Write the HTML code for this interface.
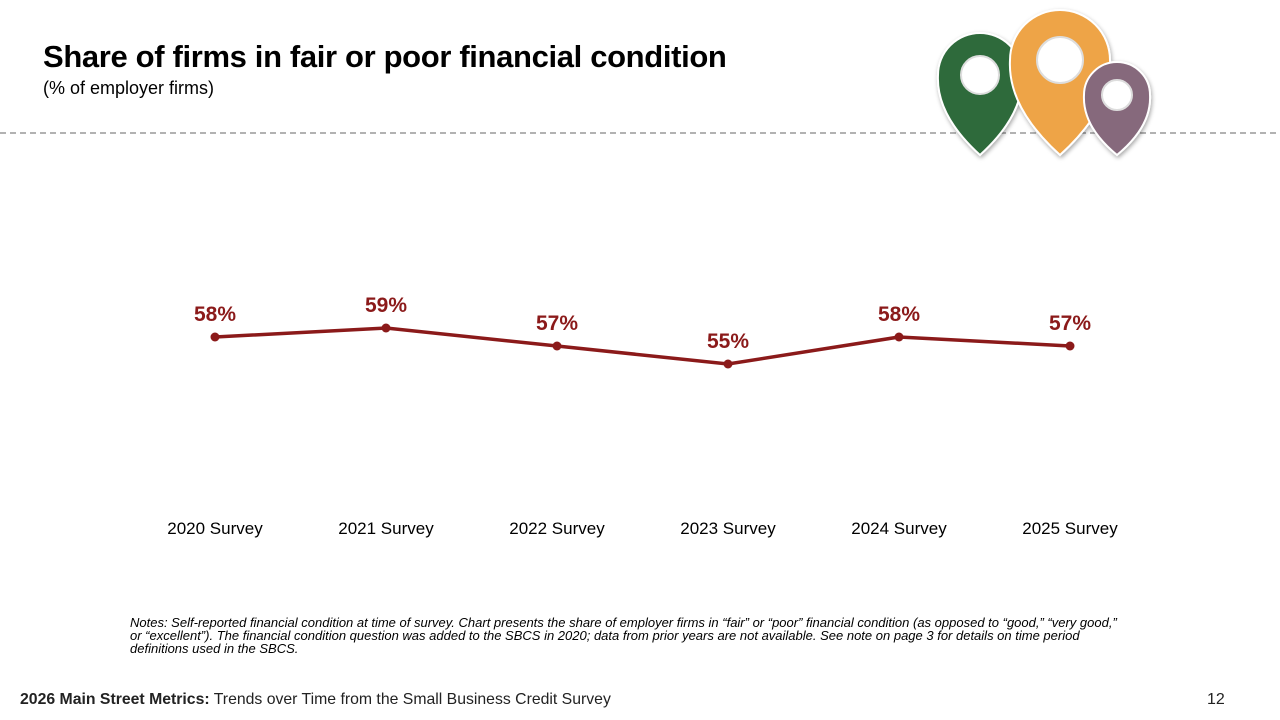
<!DOCTYPE html>
<html><head><meta charset="utf-8"><style>
body{margin:0;width:1280px;height:720px;background:#fff;font-family:"Liberation Sans",sans-serif;position:relative;overflow:hidden}
.t{position:absolute;white-space:nowrap}
</style></head><body>
<div class="t" style="left:43px;top:39px;font-size:31px;font-weight:bold;letter-spacing:-0.35px;color:#000">Share of firms in fair or poor financial condition</div>
<div class="t" style="left:43px;top:78px;font-size:18px;color:#000">(% of employer firms)</div>
<svg style="position:absolute;left:0;top:131px" width="1280" height="4"><line x1="0" y1="2" x2="1280" y2="2" stroke="#999" stroke-width="1.5" stroke-dasharray="6 4"/></svg>
<svg style="position:absolute;left:0;top:0" width="1280" height="170">
<defs><filter id="s"><feDropShadow dx="1" dy="2" stdDeviation="2" flood-opacity="0.35"/></filter></defs>
<g id="pins" filter="url(#s)" stroke="#fff" stroke-width="2"></g>
</svg>
<svg id="chart" style="position:absolute;left:0;top:0" width="1280" height="560"></svg>
<div class="t" style="left:130px;top:616px;font-size:13px;font-style:italic;line-height:13px;color:#000">Notes: Self-reported financial condition at time of survey. Chart presents the share of employer firms in “fair” or “poor” financial condition (as opposed to “good,” “very good,”<br>or “excellent”). The financial condition question was added to the SBCS in 2020; data from prior years are not available. See note on page 3 for details on time period<br>definitions used in the SBCS.</div>
<div class="t" style="left:20px;top:691px;font-size:15.8px;color:#222"><b>2026 Main Street Metrics:</b> Trends over Time from the Small Business Credit Survey</div>
<div class="t" style="left:1207px;top:691px;font-size:16px;color:#222">12</div>
<script>
const categories=["2020 Survey","2021 Survey","2022 Survey","2023 Survey","2024 Survey","2025 Survey"];
const values=[58,59,57,55,58,57];
const NS="http://www.w3.org/2000/svg";
const svg=document.getElementById('chart');
const xs=i=>215+i*171;
const ys=v=>337-(v-58)*9;
function mk(t,a){const e=document.createElementNS(NS,t);for(const k in a)e.setAttribute(k,a[k]);return e;}
let d=values.map((v,i)=>(i?'L':'M')+xs(i)+' '+ys(v)).join(' ');
const line=mk('path',{d:d,fill:'none',stroke:'#8b1a1a','stroke-width':3.5});


svg.appendChild(line);
values.forEach((v,i)=>{
 const c=mk('circle',{cx:xs(i),cy:ys(v),r:4.5,fill:'#8b1a1a'});
 
 
 svg.appendChild(c);
 const t=mk('text',{x:xs(i),y:ys(v)-16,'text-anchor':'middle','font-size':21,'font-weight':'bold',fill:'#8b1a1a','font-family':'Liberation Sans'});
 t.textContent=v+'%';
 
 
 svg.appendChild(t);
 const x=mk('text',{x:xs(i),y:534,'text-anchor':'middle','font-size':17,fill:'#000','font-family':'Liberation Sans'});
 x.textContent=categories[i];
 
 
 svg.appendChild(x);
});
const pins=document.getElementById('pins');
[[980,75,42,155,'#2e6b3b',19],[1060,60,50,155,'#eea447',23],[1117,95,33,155,'#86697b',15]].forEach(p=>{
 const [cx,cy,R,tip,col,h]=p;
 const pd=`M${cx} ${tip} Q${cx-R*1.05} ${cy+R*0.95} ${cx-R} ${cy} A${R} ${R} 0 1 1 ${cx+R} ${cy} Q${cx+R*1.05} ${cy+R*0.95} ${cx} ${tip} Z`;
 const e=mk('path',{d:pd,fill:col});
 
 
 pins.appendChild(e);
 const hc=mk('circle',{cx:cx,cy:cy,r:h,fill:'#fff',stroke:'#ddd'});
 
 
 pins.appendChild(hc);
});
</script>
</body></html>
